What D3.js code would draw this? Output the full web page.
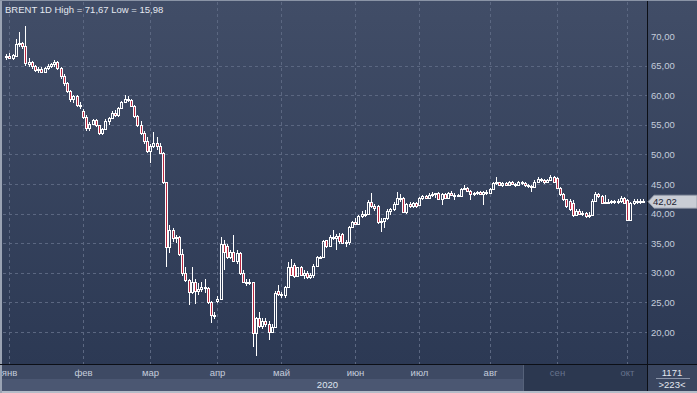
<!DOCTYPE html>
<html><head><meta charset="utf-8">
<script src="https://cdn.jsdelivr.net/npm/d3@7"></script>
<style>html,body{margin:0;padding:0;background:#2e3a52;overflow:hidden}svg{display:block}</style>
</head><body><svg id="c" width="697" height="393"></svg>
<script>
// month labels and number of candles per month (first entry: one Dec-2019 candle, unlabeled)
const monthLabels = ["", "янв","фев","мар","апр","май","июн","июл","авг","сен","окт"];
const monthCounts = [1, 23, 21, 21, 20, 23, 20, 22, 21, 22, 6];
const priceTicks = [20, 25, 30, 35, 40, 45, 50, 55, 60, 65, 70];
const yearLabel = "2020";
const titleText = "BRENT 1D High = 71,67 Low = 15,98";
const lastPrice = 42.02;

const opens = [66.4,66.6,66.3,66.6,68.6,68.9,68.3,65.3,65.6,65.0,64.2,64.5,64.0,64.6,64.9,65.2,65.6,64.6,63.2,62.0,60.7,59.3,59.8,58.3,
57.4,56.4,54.4,55.2,55.8,54.9,53.6,54.3,55.6,56.1,57.0,56.7,57.9,58.9,59.4,59.2,58.2,56.5,55.0,53.6,52.3,
50.6,51.5,52.0,51.4,50.2,45.3,34.4,37.2,35.8,36.0,33.2,30.0,28.8,26.8,28.5,27.0,27.2,27.6,27.4,25.0,22.8,
25.3,25.6,34.8,34.6,32.6,33.5,32.0,33.3,30.0,28.5,28.2,28.4,19.8,22.4,21.0,21.9,21.3,20.0,20.9,26.9,
26.5,26.2,27.6,31.0,31.3,29.5,30.9,29.7,30.0,29.3,29.6,31.2,32.6,32.7,35.5,34.5,36.1,35.9,36.2,36.5,35.0,35.2,37.7,
38.5,38.3,39.6,40.0,39.9,42.0,41.2,41.2,38.5,38.7,39.2,40.5,40.7,41.6,42.7,42.6,40.3,41.6,41.2,41.8,
41.4,42.6,42.9,42.7,43.2,43.3,43.4,42.5,43.3,42.7,43.5,43.2,43.1,43.0,44.2,44.3,43.8,43.3,43.4,43.6,43.3,43.6,
43.5,44.2,45.1,45.3,44.8,45.1,44.8,45.3,45.0,44.9,45.3,45.1,44.8,44.6,44.5,45.4,45.9,45.6,45.3,45.7,46.2,
46.0,44.4,43.3,42.4,42.2,41.8,39.8,40.5,39.9,40.1,39.6,39.8,42.2,43.3,43.0,41.8,42.0,41.9,42.1,41.9,42.2,42.7,
42.3,39.0,41.8,42.1,41.9,42.2];
const highs = [66.9,67.2,67.0,69.5,70.7,69.0,71.67,66.2,65.7,65.1,64.8,64.7,64.8,65.2,65.5,65.9,65.7,64.7,63.5,62.2,60.9,60.0,60.1,58.9,
57.6,56.6,55.4,56.0,55.9,55.0,54.5,55.9,56.3,57.3,57.5,58.0,59.1,60.1,59.8,59.3,58.3,56.6,55.6,53.9,53.0,
51.8,53.8,53.0,51.9,50.4,45.4,38.0,37.5,36.4,36.3,34.0,31.0,29.0,31.0,29.0,28.3,28.4,28.9,27.6,25.3,23.3,
26.0,36.0,35.6,34.9,33.8,36.4,33.9,33.5,30.5,29.0,29.0,28.5,22.6,23.4,22.3,22.3,21.9,21.3,26.9,28.0,
26.8,27.8,31.8,32.3,31.7,31.0,31.2,30.4,30.3,30.0,31.5,32.8,32.9,35.6,35.6,36.4,37.2,36.5,36.8,36.7,35.6,37.9,38.7,
39.2,39.8,40.5,40.6,42.3,43.5,41.6,41.5,39.3,39.3,40.7,40.9,41.9,43.6,43.3,42.8,41.8,41.9,42.0,42.0,
42.8,43.1,43.2,43.5,43.6,43.5,43.6,43.5,43.4,43.7,43.8,43.5,43.3,44.4,44.8,44.5,44.0,43.7,43.8,43.8,43.8,44.0,
44.4,45.4,46.2,45.4,45.3,45.4,45.5,45.5,45.2,45.5,45.5,45.3,45.0,44.9,45.6,46.1,46.0,45.8,45.9,46.6,46.4,
46.2,44.5,43.4,42.5,42.4,42.3,40.7,40.7,40.4,40.3,40.2,42.4,43.6,43.5,43.2,43.1,42.4,42.3,42.3,42.4,42.9,42.8,
42.4,42.0,42.4,42.5,42.4,42.4];
const lows = [66.0,66.1,65.9,66.4,68.2,67.8,64.9,64.8,64.5,63.9,63.8,63.8,63.9,64.3,64.6,64.8,64.2,62.8,61.6,60.4,58.9,58.7,58.0,57.6,
56.0,54.0,54.0,54.9,54.6,53.2,53.3,54.1,55.0,56.0,56.4,56.3,57.6,58.6,58.8,58.0,56.2,54.6,53.2,51.8,50.2,
48.5,51.0,50.8,50.0,45.0,31.0,33.3,35.2,35.0,32.8,29.5,28.5,24.6,26.5,24.8,26.2,26.8,26.6,24.7,21.5,22.2,
24.9,25.4,30.5,32.4,32.3,31.8,31.5,29.6,28.2,27.8,27.9,17.5,15.98,20.6,20.5,20.8,18.6,19.8,20.7,26.0,
25.7,25.8,27.4,29.4,29.2,29.3,29.4,29.0,29.0,28.9,29.2,31.0,32.4,32.6,34.2,34.4,35.5,33.9,34.8,34.8,34.3,34.7,37.5,
38.0,38.1,39.3,39.5,39.8,40.9,40.4,38.2,36.9,37.6,39.0,39.8,40.4,41.5,41.9,40.1,40.0,40.9,41.0,41.0,
41.3,42.3,42.5,42.6,42.8,42.6,42.3,41.5,42.4,42.6,43.0,42.3,42.8,42.9,44.0,43.6,42.3,43.0,43.1,43.1,41.5,43.2,
43.4,44.1,44.9,44.6,44.5,44.6,44.6,44.8,44.5,44.7,44.9,44.5,44.3,43.7,44.4,45.2,45.3,45.0,45.2,45.5,45.2,
44.2,43.0,42.2,40.9,40.5,39.5,39.6,39.7,39.6,39.3,39.3,39.7,42.0,42.6,41.6,41.7,41.6,41.6,41.7,41.7,41.8,41.6,
38.9,38.9,41.5,41.7,41.7,41.8];
const closes = [66.6,66.3,66.8,68.6,68.9,68.3,65.4,65.6,65.0,64.2,64.5,64.0,64.6,64.9,65.2,65.6,64.6,63.2,62.0,60.7,59.3,59.8,58.3,58.2,
56.4,54.4,55.2,55.8,54.9,53.6,54.3,55.6,56.1,57.0,56.7,57.9,58.9,59.4,59.2,58.2,56.5,55.0,53.6,52.3,50.6,
51.5,52.0,51.4,50.2,45.3,34.4,37.2,35.8,36.0,33.2,30.0,28.8,26.8,28.5,27.0,27.2,27.6,27.4,25.0,22.8,22.7,
25.6,34.8,33.5,32.6,33.5,32.0,33.3,30.0,28.5,28.2,28.4,19.8,22.4,21.0,21.9,21.3,20.0,20.9,26.6,26.5,
26.2,27.6,31.0,29.7,29.5,30.9,29.7,30.0,29.3,29.6,31.2,32.6,32.7,35.4,34.5,36.1,35.9,36.2,35.3,35.0,35.2,37.7,38.5,
38.3,39.6,40.0,39.9,42.0,41.2,40.9,38.5,38.7,39.2,40.5,40.7,41.6,42.7,42.5,40.3,41.6,41.2,41.8,41.3,
42.6,42.9,42.7,43.2,43.3,43.4,42.5,43.3,42.7,43.5,43.2,43.1,43.0,44.2,44.3,43.8,43.3,43.4,43.6,43.3,43.6,43.5,
44.2,45.1,45.3,44.8,45.1,44.8,45.3,45.0,44.9,45.3,45.1,44.8,44.6,44.5,45.4,45.9,45.6,45.3,45.7,46.2,45.4,
44.4,43.3,42.4,41.2,40.7,39.8,40.5,39.9,40.1,39.6,39.8,42.2,43.3,43.0,41.8,42.0,41.9,42.1,41.9,42.2,42.7,41.8,
39.0,41.8,42.1,41.9,42.2,42.02];

const W = 697, H = 393;
const plotL = 3, plotR = 647, plotT = 2, plotB = 364;
const svg = d3.select("#c");
const defs = svg.append("defs");
const grad = defs.append("linearGradient").attr("id","bg").attr("x1",0).attr("y1",0).attr("x2",0).attr("y2",1);
grad.append("stop").attr("offset","0%").attr("stop-color","#414d67");
grad.append("stop").attr("offset","100%").attr("stop-color","#2c3954");
defs.append("clipPath").attr("id","clip").append("rect")
  .attr("x",plotL).attr("y",plotT).attr("width",plotR-plotL).attr("height",plotB-plotT);

// backgrounds
svg.append("rect").attr("x",0).attr("y",0).attr("width",W).attr("height",365).attr("fill","url(#bg)");
// bottom rows
svg.append("rect").attr("x",0).attr("y",365).attr("width",W).attr("height",14).attr("fill","#3e4a64");
svg.append("rect").attr("x",0).attr("y",379).attr("width",W).attr("height",12).attr("fill","#4b5772");
svg.append("rect").attr("x",523).attr("y",365).attr("width",124).attr("height",26).attr("fill","#2c3850");
svg.append("line").attr("x1",523.5).attr("x2",523.5).attr("y1",365).attr("y2",391).attr("stroke","#56627a");
svg.append("rect").attr("x",648).attr("y",365).attr("width",49).attr("height",26).attr("fill","#3a4660");
// outer borders
svg.append("rect").attr("x",0).attr("y",391).attr("width",W).attr("height",2).attr("fill","#b4bcc8");
svg.append("rect").attr("x",0).attr("y",0).attr("width",2).attr("height",393).attr("fill","#9aa3b3");
svg.append("rect").attr("x",0).attr("y",0).attr("width",W).attr("height",1).attr("fill","#8a94a6");

// scales
const n = closes.length;
const x = d3.scaleLinear().domain([0, n-1]).range([6.1, 643.3]);
const y = d3.scaleLinear().domain([20, 70]).range([332, 36]);

// month starts
const monthStart = [];
let acc = 0;
monthCounts.forEach((c,i)=>{ monthStart.push({i:acc, label:monthLabels[i], m:i}); acc += c; });
const monthTicks = monthStart.filter(d=>d.label!=="");

// grid
const grid = svg.append("g").attr("stroke","#5b6781").attr("stroke-width",1).attr("stroke-dasharray","3,3");
priceTicks.filter(v=>v<70).forEach(v=>{
  const yy = Math.round(y(v))+0.5;
  grid.append("line").attr("x1",plotL).attr("x2",plotR).attr("y1",yy).attr("y2",yy);
});
monthTicks.forEach(d=>{
  const xx = Math.round(x(d.i))+0.5;
  grid.append("line").attr("x1",xx).attr("x2",xx).attr("y1",plotT).attr("y2",plotB);
});

// candles
const cg = svg.append("g").attr("clip-path","url(#clip)");
for (let i=0;i<n;i++){
  const o=opens[i], h=highs[i], l=lows[i], c=closes[i];
  const cx = Math.round(x(i));
  const top = Math.round(y(Math.max(o,c))), bot = Math.max(Math.round(y(Math.min(o,c))), top+1);
  const yh = Math.round(y(h)), yl = Math.round(y(l));
  const up = c >= o;
  if (yh < top) cg.append("line").attr("x1",cx+0.5).attr("x2",cx+0.5).attr("y1",yh).attr("y2",top).attr("stroke","#ffffff");
  if (yl > bot) cg.append("line").attr("x1",cx+0.5).attr("x2",cx+0.5).attr("y1",bot).attr("y2",yl).attr("stroke","#ffffff");
  cg.append("rect").attr("x",cx-0.5).attr("y",top+0.5).attr("width",2).attr("height",bot-top)
    .attr("fill", up ? "none" : "#b8263f").attr("stroke","#ffffff").attr("stroke-width",1);
}

// separator lines
svg.append("line").attr("x1",0).attr("x2",W).attr("y1",364.5).attr("y2",364.5).attr("stroke","#0c0f16");
svg.append("line").attr("x1",647.5).attr("x2",647.5).attr("y1",1).attr("y2",391).attr("stroke","#0c0f16");

const font = "'Liberation Sans', Arial, sans-serif";
// title
svg.append("text").attr("x",5).attr("y",12.5).attr("font-family",font).attr("font-size",9.5)
  .attr("fill","#e4e8f0").text(titleText);

// right axis labels
const fmt = v => d3.format(".2f")(v).replace(".", ",");
svg.append("g").selectAll("text").data(priceTicks).join("text")
  .attr("x",651).attr("y",v=>y(v)+3.5).attr("font-family",font).attr("font-size",9.5)
  .attr("fill","#c4ccdb").text(fmt);

// month labels
svg.append("g").selectAll("text").data(monthTicks).join("text")
  .attr("x",d=>Math.round(x(d.i))+0.5).attr("y",376).attr("text-anchor","middle")
  .attr("font-family",font).attr("font-size",9.5)
  .attr("fill",d=>d.m>=9 ? "#66728c" : "#c4ccdb").text(d=>d.label);

// year label
svg.append("text").attr("x",338).attr("y",387.5).attr("text-anchor","end").attr("font-family",font)
  .attr("font-size",9.5).attr("fill","#dfe4ee").text(yearLabel);

// bottom-right box
svg.append("text").attr("x",672).attr("y",375.5).attr("text-anchor","middle").attr("font-family",font)
  .attr("font-size",9.5).attr("fill","#e4e8f0").text("1171");
svg.append("line").attr("x1",656).attr("x2",690).attr("y1",378.5).attr("y2",378.5).attr("stroke","#8a94a8");
svg.append("text").attr("x",672).attr("y",388).attr("text-anchor","middle").attr("font-family",font)
  .attr("font-size",9.5).attr("fill","#e4e8f0").text(">223<");

// last price tag
const ly = y(lastPrice);
svg.append("path").attr("d",`M648,${ly} L654,${ly-6.5} L697,${ly-6.5} L697,${ly+6.5} L654,${ly+6.5} Z`)
  .attr("fill","#c9cdd5").attr("stroke","#8d95a4").attr("stroke-width",0.8);
svg.append("text").attr("x",653).attr("y",ly+3.5).attr("font-family",font).attr("font-size",9.5)
  .attr("fill","#1b2130").text(fmt(lastPrice));
</script></body></html>
